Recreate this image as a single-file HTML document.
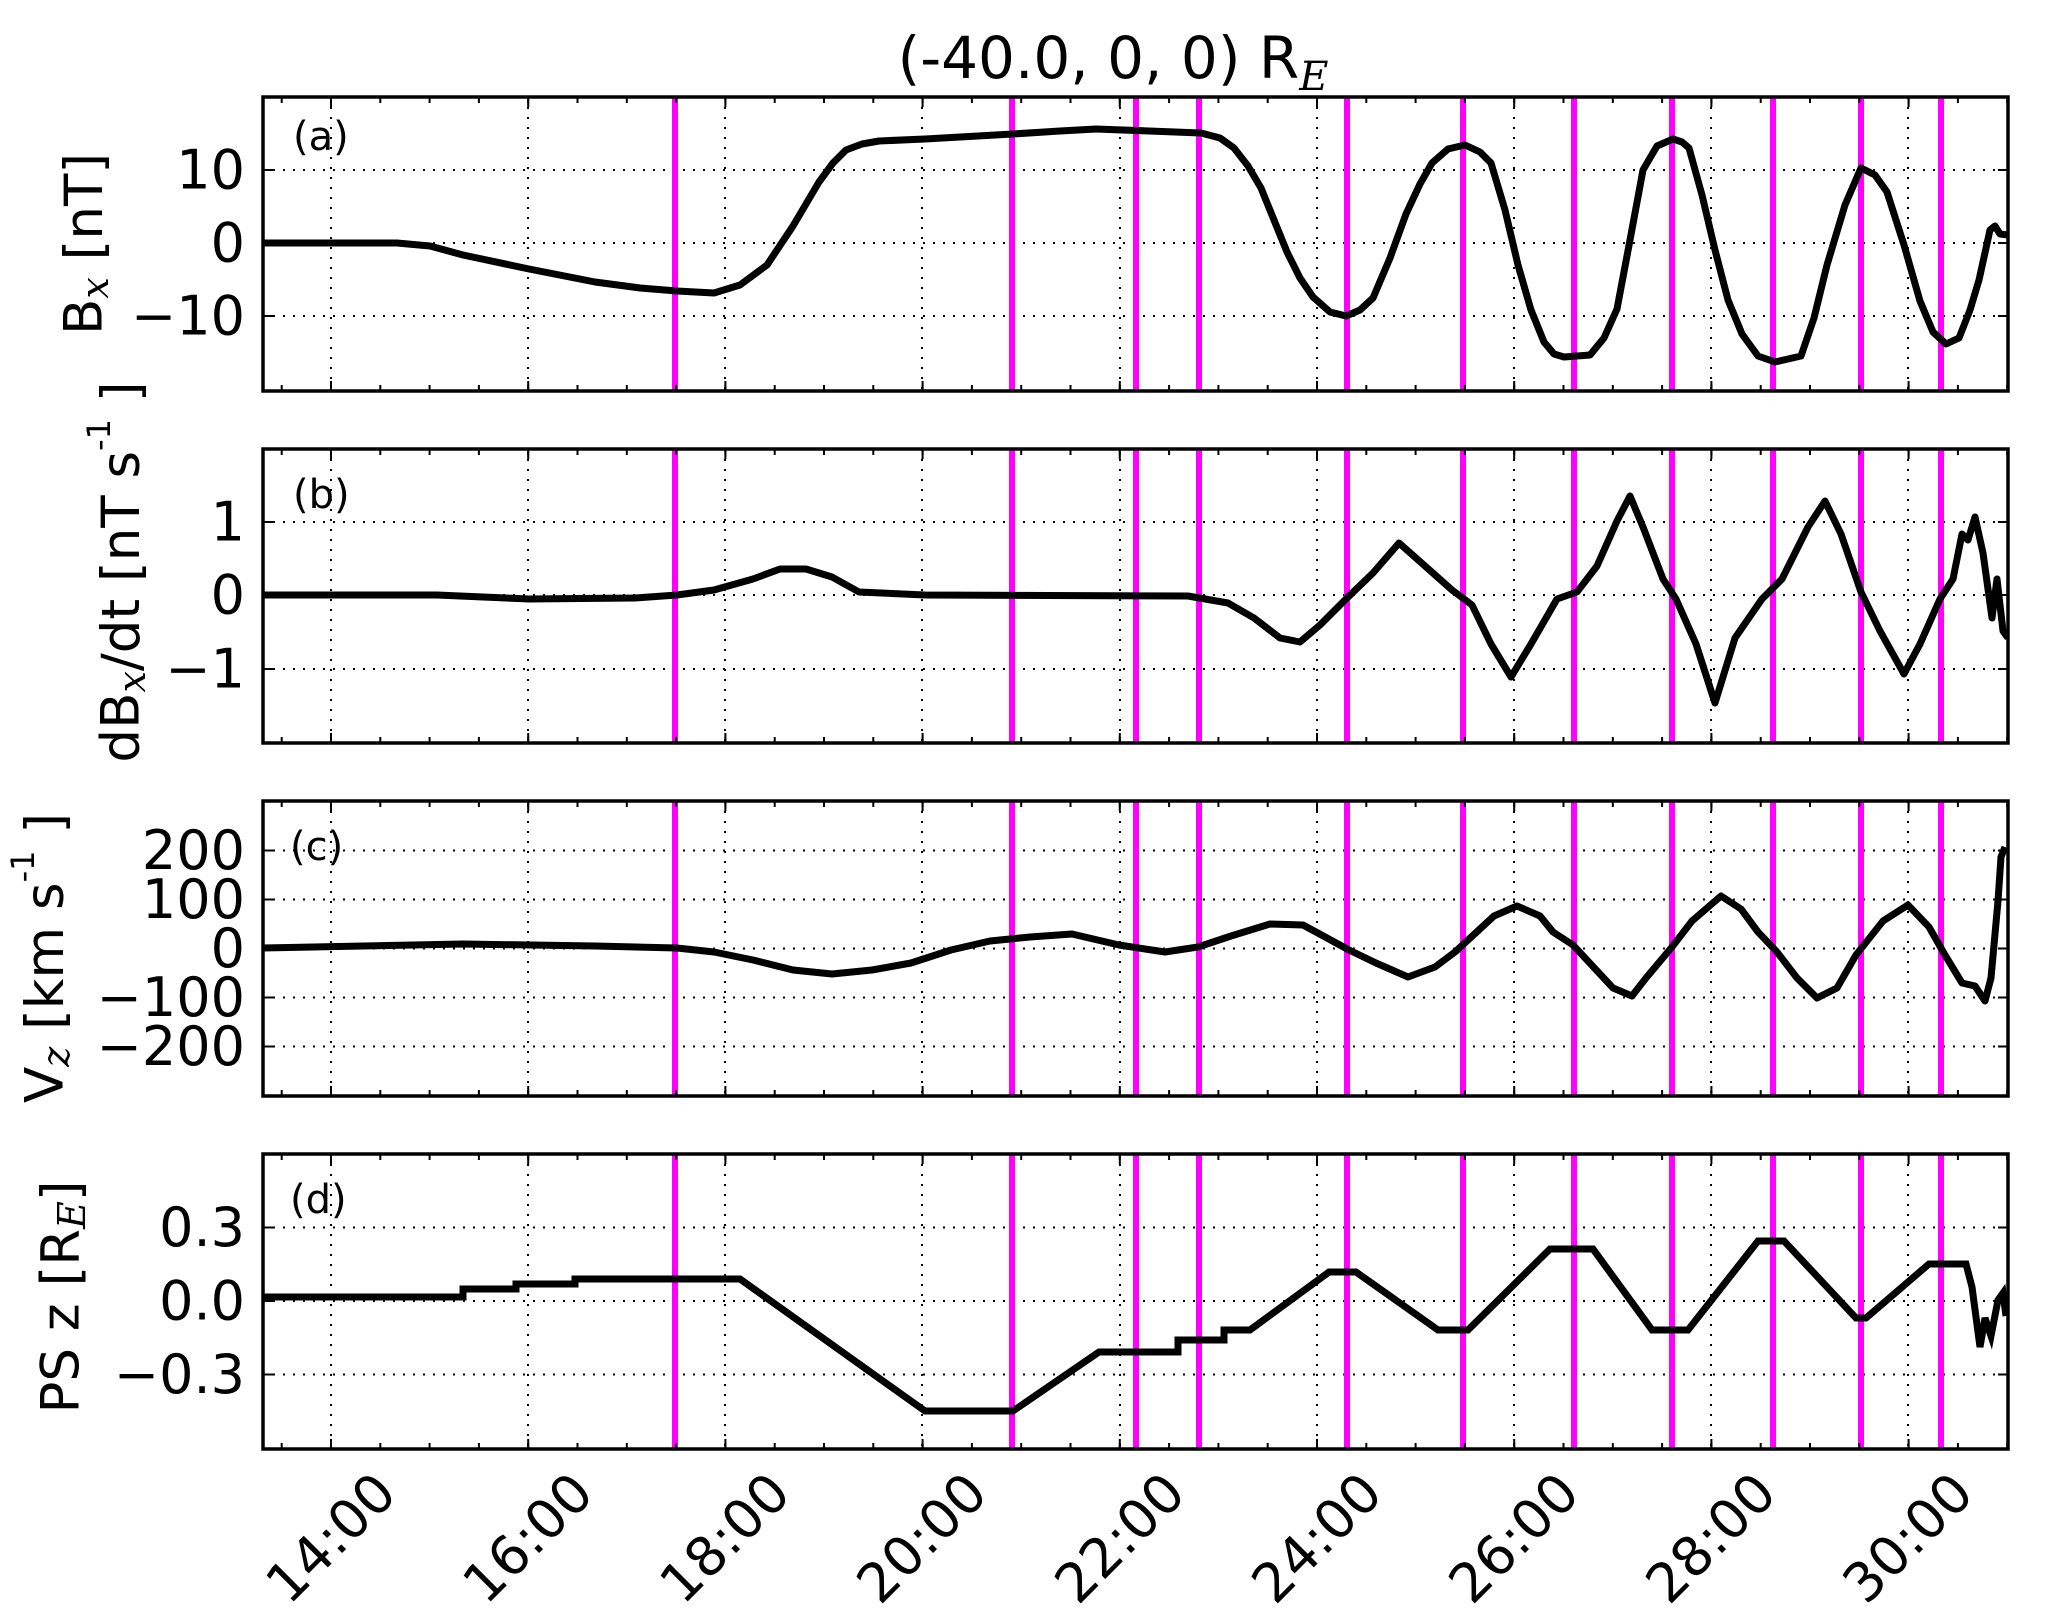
<!DOCTYPE html>
<html><head><meta charset="utf-8"><style>
html,body{margin:0;padding:0;background:#fff}
svg{display:block}
text{font-family:"DejaVu Sans","Liberation Sans",sans-serif;fill:#000}
</style></head><body>
<svg width="2067" height="1617" viewBox="0 0 2067 1617" xmlns="http://www.w3.org/2000/svg">
<defs>
<clipPath id="ca"><rect x="263" y="97" width="1745" height="294"/></clipPath>
<clipPath id="cb"><rect x="263" y="449" width="1745" height="294"/></clipPath>
<clipPath id="cc"><rect x="263" y="801" width="1745" height="295"/></clipPath>
<clipPath id="cd"><rect x="263" y="1154" width="1745" height="295"/></clipPath>
<g id="vgrid" stroke="#000" stroke-width="2" stroke-dasharray="2,8">
<line x1="331" y1="0" x2="331" y2="300"/><line x1="528" y1="0" x2="528" y2="300"/><line x1="725" y1="0" x2="725" y2="300"/><line x1="922" y1="0" x2="922" y2="300"/><line x1="1120" y1="0" x2="1120" y2="300"/><line x1="1317" y1="0" x2="1317" y2="300"/><line x1="1514" y1="0" x2="1514" y2="300"/><line x1="1711" y1="0" x2="1711" y2="300"/><line x1="1908" y1="0" x2="1908" y2="300"/>
</g>
<g id="mag" stroke="#ff00ff" stroke-width="6">
<line x1="675" y1="0" x2="675" y2="300"/><line x1="1012" y1="0" x2="1012" y2="300"/><line x1="1136" y1="0" x2="1136" y2="300"/><line x1="1199" y1="0" x2="1199" y2="300"/><line x1="1347" y1="0" x2="1347" y2="300"/><line x1="1463" y1="0" x2="1463" y2="300"/><line x1="1574" y1="0" x2="1574" y2="300"/><line x1="1672" y1="0" x2="1672" y2="300"/><line x1="1773" y1="0" x2="1773" y2="300"/><line x1="1861" y1="0" x2="1861" y2="300"/><line x1="1941" y1="0" x2="1941" y2="300"/>
</g>
<g id="xt" stroke="#000" stroke-width="2">
<line x1="263" y1="3" x2="2008" y2="3" stroke-width="6" stroke-dasharray="2 47.3" stroke-dashoffset="-17.7"/>
<line x1="263" y1="5" x2="2008" y2="5" stroke-width="10" stroke-dasharray="2 195.2" stroke-dashoffset="-67"/>
</g>
</defs>

<text x="1113" y="78" font-size="58" text-anchor="middle">(-40.0, 0, 0) R<tspan font-family="DejaVu Serif,serif" font-style="italic" font-size="40" dy="12">E</tspan></text>

<!-- Panel a -->
<g clip-path="url(#ca)">
<use href="#vgrid" y="97"/>
<g stroke="#000" stroke-width="2" stroke-dasharray="2,8"><line x1="263" y1="170" x2="2008" y2="170"/><line x1="263" y1="243" x2="2008" y2="243"/><line x1="263" y1="316" x2="2008" y2="316"/></g>
<use href="#mag" y="97"/>
<polyline fill="none" stroke="#000" stroke-width="7" stroke-linejoin="round" points="263,243 397,243 430,246 463,255 529,269 595,282 640,288 677,291 714,293 740,285 767,265 793,226 819,182 833,163 846,150 862,144 879,141 925,139 1013,134 1060,131 1096,129 1149,131 1201,133 1220,138 1234,148 1248,166 1261,188 1274,220 1287,252 1300,278 1313,297 1330,312 1346,316 1360,310 1373,298 1390,258 1406,214 1420,184 1432,163 1448,149 1465,145 1480,152 1491,163 1505,210 1518,265 1531,310 1544,342 1554,354 1564,357 1590,355 1604,338 1617,309 1630,240 1643,170 1657,146 1673,139 1682,142 1689,148 1702,195 1715,250 1728,300 1742,334 1758,356 1775,362 1801,356 1814,318 1827,265 1845,205 1861,168 1875,175 1887,192 1904,245 1920,301 1933,332 1946,344 1959,338 1970,310 1979,280 1990,230 1995,226 2000,234 2008,235"/>
</g>
<rect x="263" y="97" width="1745" height="294" fill="none" stroke="#000" stroke-width="3.5"/>
<use href="#xt" y="97"/><use href="#xt" transform="translate(0,391) scale(1,-1)"/>
<g stroke="#000" stroke-width="2"><path d="M263 170h10M263 243h10M263 316h10M2008 170h-10M2008 243h-10M2008 316h-10"/></g>
<text x="293" y="150" font-size="40">(a)</text>
<g font-size="54" text-anchor="end" dominant-baseline="central"><text x="245" y="170">10</text><text x="245" y="243">0</text><text x="245" y="316">−10</text></g>
<text transform="translate(84,244) rotate(-90)" font-size="53" text-anchor="middle" dominant-baseline="central">B<tspan font-family="DejaVu Serif,serif" font-style="italic" font-size="38" dy="11">x</tspan><tspan dy="-11">  [nT]</tspan></text>

<!-- Panel b -->
<g clip-path="url(#cb)">
<use href="#vgrid" y="449"/>
<g stroke="#000" stroke-width="2" stroke-dasharray="2,8"><line x1="263" y1="522" x2="2008" y2="522"/><line x1="263" y1="595" x2="2008" y2="595"/><line x1="263" y1="669" x2="2008" y2="669"/></g>
<use href="#mag" y="449"/>
<polyline fill="none" stroke="#000" stroke-width="7" stroke-linejoin="round" points="263,595 437,595 529,599 635,598 677,595 714,590 753,579 780,569 806,569 832,577 859,592 925,595 1188,596 1228,603 1254,618 1280,638 1300,642 1320,625 1346,599 1373,573 1399,543 1425,566 1452,590 1472,605 1491,644 1511,677 1531,644 1557,599 1577,592 1597,566 1617,521 1630,496 1643,527 1663,579 1676,599 1696,644 1715,703 1735,638 1762,599 1782,579 1808,527 1825,501 1841,534 1861,592 1880,631 1904,674 1920,644 1940,599 1953,579 1962,534 1968,540 1975,517 1983,553 1992,618 1997,579 2003,631 2008,638"/>
</g>
<rect x="263" y="449" width="1745" height="294" fill="none" stroke="#000" stroke-width="3.5"/>
<use href="#xt" y="449"/><use href="#xt" transform="translate(0,743) scale(1,-1)"/>
<g stroke="#000" stroke-width="2"><path d="M263 522h10M263 595h10M263 669h10M2008 522h-10M2008 595h-10M2008 669h-10"/></g>
<text x="293" y="508" font-size="40">(b)</text>
<g font-size="54" text-anchor="end" dominant-baseline="central"><text x="245" y="522">1</text><text x="245" y="595">0</text><text x="245" y="669">−1</text></g>
<text transform="translate(121,572) rotate(-90)" font-size="53" text-anchor="middle" dominant-baseline="central">dB<tspan font-family="DejaVu Serif,serif" font-style="italic" font-size="38" dy="11">x</tspan><tspan dy="-11">/dt [nT s</tspan><tspan font-size="32" dy="-22">-1</tspan><tspan dy="22"> ]</tspan></text>

<!-- Panel c -->
<g clip-path="url(#cc)">
<use href="#vgrid" y="801"/>
<g stroke="#000" stroke-width="2" stroke-dasharray="2,8"><line x1="263" y1="850.5" x2="2008" y2="850.5"/><line x1="263" y1="899.5" x2="2008" y2="899.5"/><line x1="263" y1="948.5" x2="2008" y2="948.5"/><line x1="263" y1="997.5" x2="2008" y2="997.5"/><line x1="263" y1="1046.5" x2="2008" y2="1046.5"/></g>
<use href="#mag" y="801"/>
<polyline fill="none" stroke="#000" stroke-width="7" stroke-linejoin="round" points="263,948 463,944 595,946 677,948 714,952 753,960 793,970 832,974 872,970 911,963 951,950 990,941 1030,937 1072,934 1119,945 1165,952 1198,947 1231,936 1270,924 1303,925 1316,932 1349,950 1376,963 1408,977 1435,967 1455,952 1494,916 1517,906 1540,916 1553,932 1573,945 1613,988 1632,996 1646,978 1672,947 1692,921 1721,896 1741,909 1758,932 1777,952 1797,978 1817,998 1837,988 1856,955 1883,921 1908,905 1929,927 1945,955 1962,983 1975,986 1985,1001 1991,978 1998,901 2001,857 2005,847"/>
</g>
<rect x="263" y="801" width="1745" height="295" fill="none" stroke="#000" stroke-width="3.5"/>
<use href="#xt" y="801"/><use href="#xt" transform="translate(0,1096) scale(1,-1)"/>
<g stroke="#000" stroke-width="2"><path d="M263 850.5h10M263 899.5h10M263 948.5h10M263 997.5h10M263 1046.5h10M2008 850.5h-10M2008 899.5h-10M2008 948.5h-10M2008 997.5h-10M2008 1046.5h-10"/></g>
<text x="290" y="860" font-size="40">(c)</text>
<g font-size="54" text-anchor="end" dominant-baseline="central"><text x="245" y="850.5">200</text><text x="245" y="899.5">100</text><text x="245" y="948.5">0</text><text x="245" y="997.5">−100</text><text x="245" y="1046.5">−200</text></g>
<text transform="translate(45,958) rotate(-90)" font-size="53" text-anchor="middle" dominant-baseline="central">V<tspan font-family="DejaVu Serif,serif" font-style="italic" font-size="38" dy="11">z</tspan><tspan dy="-11"> [km s</tspan><tspan font-size="32" dy="-22">-1</tspan><tspan dy="22"> ]</tspan></text>

<!-- Panel d -->
<g clip-path="url(#cd)">
<use href="#vgrid" y="1154"/>
<g stroke="#000" stroke-width="2" stroke-dasharray="2,8"><line x1="263" y1="1227.5" x2="2008" y2="1227.5"/><line x1="263" y1="1301" x2="2008" y2="1301"/><line x1="263" y1="1374.5" x2="2008" y2="1374.5"/></g>
<use href="#mag" y="1154"/>
<path fill="none" stroke="#000" stroke-width="7" stroke-linejoin="miter" d="M263,1297 H463 V1289 H516 V1284 H575 V1279 H740 L925,1411 H1013 L1099,1352 H1178 V1340 H1224 V1330 H1250 L1329,1272 H1356 L1438,1330 H1468 L1550,1249 H1593 L1652,1330 H1688 L1758,1241 H1784 L1856,1318 H1866 L1929,1264 H1966 L1972,1287 L1980,1347 L1985,1318 L1991,1336 L1998,1300 L2003,1293 L2006,1316"/>
</g>
<rect x="263" y="1154" width="1745" height="295" fill="none" stroke="#000" stroke-width="3.5"/>
<use href="#xt" y="1154"/><use href="#xt" transform="translate(0,1449) scale(1,-1)"/>
<g stroke="#000" stroke-width="2"><path d="M263 1227.5h10M263 1301h10M263 1374.5h10M2008 1227.5h-10M2008 1301h-10M2008 1374.5h-10"/></g>
<text x="290" y="1213" font-size="40">(d)</text>
<g font-size="54" text-anchor="end" dominant-baseline="central"><text x="245" y="1227.5">0.3</text><text x="245" y="1301">0.0</text><text x="245" y="1374.5">−0.3</text></g>
<text transform="translate(61,1297) rotate(-90)" font-size="53" text-anchor="middle" dominant-baseline="central">PS z [R<tspan font-family="DejaVu Serif,serif" font-style="italic" font-size="38" dy="11">E</tspan><tspan dy="-11">]</tspan></text>

<!-- x tick labels -->
<g font-size="54" text-anchor="middle" dominant-baseline="central">
<text transform="translate(331,1538) rotate(-45)">14:00</text>
<text transform="translate(528,1538) rotate(-45)">16:00</text>
<text transform="translate(725,1538) rotate(-45)">18:00</text>
<text transform="translate(922,1538) rotate(-45)">20:00</text>
<text transform="translate(1120,1538) rotate(-45)">22:00</text>
<text transform="translate(1317,1538) rotate(-45)">24:00</text>
<text transform="translate(1514,1538) rotate(-45)">26:00</text>
<text transform="translate(1711,1538) rotate(-45)">28:00</text>
<text transform="translate(1908,1538) rotate(-45)">30:00</text>
</g>
</svg>
</body></html>
